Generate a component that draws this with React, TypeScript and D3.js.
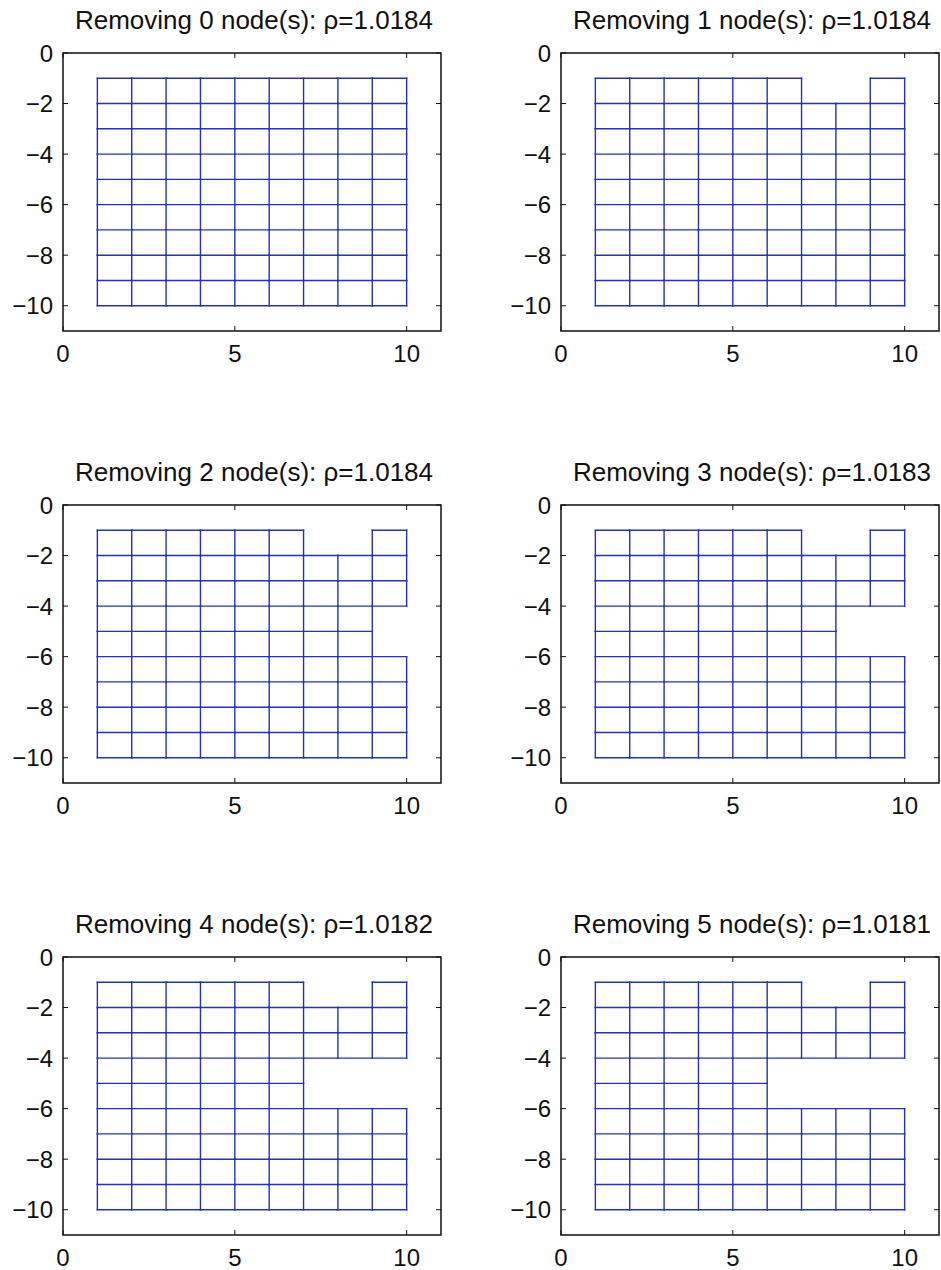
import React, { useRef, useEffect } from "react";
import * as d3 from "d3";

// node counts / spectral radius shown in each title
const removedCounts = [0, 1, 2, 3, 4, 5];
const rhoValues = ["1.0184", "1.0184", "1.0184", "1.0183", "1.0182", "1.0181"];

// nodes taken out of the 10x10 lattice, in removal order
const removedX = [8, 10, 9, 8, 7];
const removedY = [-1, -5, -5, -5, -5];

const gridX = [1, 2, 3, 4, 5, 6, 7, 8, 9, 10];
const gridY = [-1, -2, -3, -4, -5, -6, -7, -8, -9, -10];

const xTicks = [0, 5, 10];
const yTicks = [0, -2, -4, -6, -8, -10];

const App = () => {
  const ref = useRef<SVGSVGElement>(null);

  useEffect(() => {
    const svg = d3.select(ref.current);
    svg.selectAll("*").remove();

    const W = 941;
    const H = 1270;
    svg.attr("width", W).attr("height", H);

    const boxW = 378;
    const boxH = 278;
    const colX = [63, 561];
    const rowY = [53, 505, 957];
    const font = "'Liberation Sans', Arial, Helvetica, sans-serif";
    const lineColor = "#2230c8";

    removedCounts.forEach((count, i) => {
      const left = colX[i % 2];
      const top = rowY[Math.floor(i / 2)];

      const x = d3.scaleLinear().domain([0, 11]).range([left, left + boxW]);
      const y = d3.scaleLinear().domain([0, -11]).range([top, top + boxH]);

      const g = svg.append("g");

      // which nodes are gone in this panel
      const gone = new Set<string>();
      for (let k = 0; k < count; k++) gone.add(`${removedX[k]},${removedY[k]}`);
      const has = (a: number, b: number) =>
        gridX.includes(a) && gridY.includes(b) && !gone.has(`${a},${b}`);

      const edges: [number, number, number, number][] = [];
      gridX.forEach((a) => {
        gridY.forEach((b) => {
          if (!has(a, b)) return;
          if (has(a + 1, b)) edges.push([a, b, a + 1, b]);
          if (has(a, b - 1)) edges.push([a, b, a, b - 1]);
        });
      });

      g.selectAll("line.edge")
        .data(edges)
        .enter()
        .append("line")
        .attr("class", "edge")
        .attr("x1", (d) => x(d[0]))
        .attr("y1", (d) => y(d[1]))
        .attr("x2", (d) => x(d[2]))
        .attr("y2", (d) => y(d[3]))
        .attr("stroke", lineColor)
        .attr("stroke-width", 1.4)
        .attr("stroke-linecap", "square");

      // axes box
      g.append("rect")
        .attr("x", left)
        .attr("y", top)
        .attr("width", boxW)
        .attr("height", boxH)
        .attr("fill", "none")
        .attr("stroke", "#111")
        .attr("stroke-width", 1.5);

      const tick = 5;
      // x ticks, top and bottom, pointing inward
      xTicks.forEach((t) => {
        g.append("line")
          .attr("x1", x(t)).attr("x2", x(t))
          .attr("y1", top + boxH).attr("y2", top + boxH - tick)
          .attr("stroke", "#111");
        g.append("line")
          .attr("x1", x(t)).attr("x2", x(t))
          .attr("y1", top).attr("y2", top + tick)
          .attr("stroke", "#111");
        g.append("text")
          .attr("x", x(t))
          .attr("y", top + boxH + 31)
          .attr("text-anchor", "middle")
          .style("font-family", font)
          .style("font-size", "24px")
          .style("fill", "#111")
          .text(t);
      });

      yTicks.forEach((t) => {
        g.append("line")
          .attr("x1", left).attr("x2", left + tick)
          .attr("y1", y(t)).attr("y2", y(t))
          .attr("stroke", "#111");
        g.append("line")
          .attr("x1", left + boxW).attr("x2", left + boxW - tick)
          .attr("y1", y(t)).attr("y2", y(t))
          .attr("stroke", "#111");
        g.append("text")
          .attr("x", left - 10)
          .attr("y", y(t))
          .attr("dy", "0.36em")
          .attr("text-anchor", "end")
          .style("font-family", font)
          .style("font-size", "24px")
          .style("fill", "#111")
          .text(t < 0 ? `\u2212${Math.abs(t)}` : `${t}`);
      });

      g.append("text")
        .attr("x", left + boxW / 2 + 2)
        .attr("y", top - 24)
        .attr("text-anchor", "middle")
        .style("font-family", font)
        .style("font-size", "26px")
        .style("fill", "#111")
        .text(`Removing ${count} node(s): \u03c1=${rhoValues[i]}`);
    });
  }, []);

  return (
    <svg
      ref={ref}
      style={{ position: "absolute", left: 0, top: 0, background: "#fff" }}
    ></svg>
  );
};

export default App;
